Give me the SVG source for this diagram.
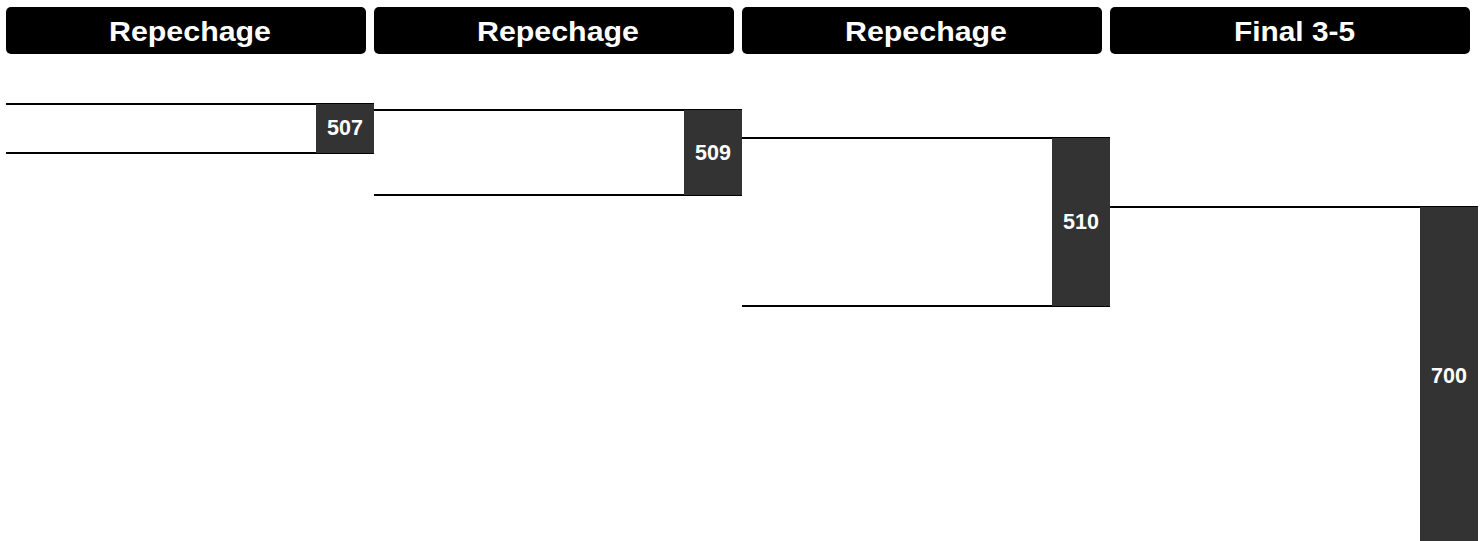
<svg xmlns="http://www.w3.org/2000/svg" width="1480" height="541" viewBox="0 0 1480 541">
<style>
.hdr{fill:#000}
.ht{font-family:"Liberation Sans",Arial,sans-serif;font-weight:bold;font-size:28px;fill:#fff;text-anchor:middle}
.ln{stroke:#000;stroke-width:2.2;fill:none}
.box{fill:#333}
.nt{font-family:"Liberation Sans",Arial,sans-serif;font-weight:bold;font-size:21.5px;fill:#fff;text-anchor:middle}
</style>
<rect width="1480" height="541" fill="#fff"/>
<g id="headers">
<g id="h1"><rect class="hdr" x="6" y="7" width="360" height="47" rx="5"/><text class="ht" x="190" y="41" textLength="162" lengthAdjust="spacingAndGlyphs">Repechage</text></g>
<g id="h2"><rect class="hdr" x="374" y="7" width="360" height="47" rx="5"/><text class="ht" x="558" y="41" textLength="162" lengthAdjust="spacingAndGlyphs">Repechage</text></g>
<g id="h3"><rect class="hdr" x="742" y="7" width="360" height="47" rx="5"/><text class="ht" x="926" y="41" textLength="162" lengthAdjust="spacingAndGlyphs">Repechage</text></g>
<g id="h4"><rect class="hdr" x="1110" y="7" width="360" height="47" rx="5"/><text class="ht" x="1294.5" y="41" textLength="121" lengthAdjust="spacingAndGlyphs">Final 3-5</text></g>
</g>
<g id="connectors">
<line class="ln" x1="6" y1="104" x2="374" y2="104"/>
<line class="ln" x1="6" y1="153" x2="374" y2="153"/>
<line class="ln" x1="374" y1="110" x2="742" y2="110"/>
<line class="ln" x1="374" y1="195" x2="742" y2="195"/>
<line class="ln" x1="742" y1="138" x2="1110" y2="138"/>
<line class="ln" x1="742" y1="306" x2="1110" y2="306"/>
<line class="ln" x1="1110" y1="207" x2="1478" y2="207"/>
</g>
<g id="m507"><rect class="box" x="316" y="104" width="58" height="49"/><text class="nt" x="345" y="134.5">507</text></g>
<g id="m509"><rect class="box" x="684" y="110" width="58" height="85"/><text class="nt" x="713" y="160">509</text></g>
<g id="m510"><rect class="box" x="1052" y="138" width="58" height="168"/><text class="nt" x="1081" y="229">510</text></g>
<g id="m700"><rect class="box" x="1420" y="207" width="58" height="336"/><text class="nt" x="1449" y="382.5">700</text></g>
</svg>
